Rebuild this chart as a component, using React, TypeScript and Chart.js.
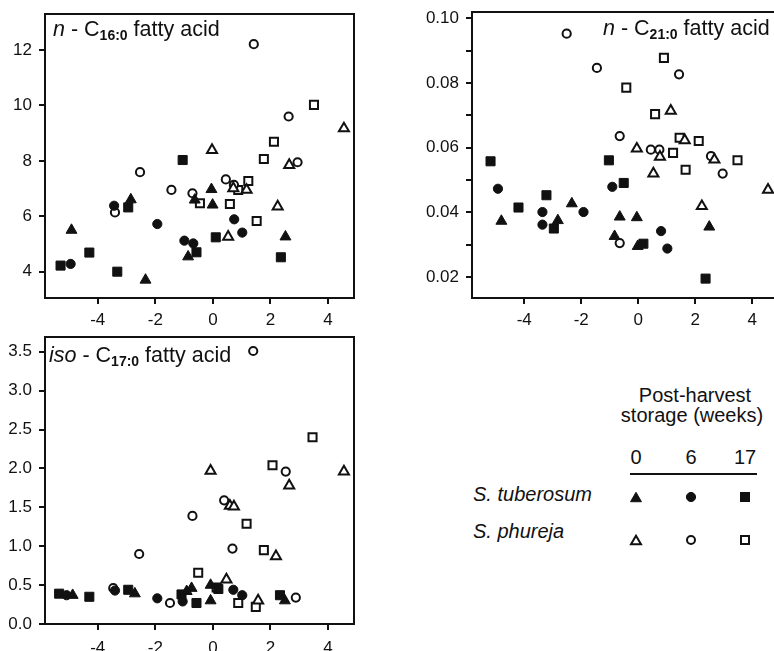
import { useEffect, useRef } from "react";
import { Chart, registerables } from "chart.js";

Chart.register(...registerables);

type Pt = [number, number];

// each point: [score on first axis, amount of fatty acid]
// groups: tuberosum / phureja after 0, 6 and 17 weeks of storage
const C16_TUB_0: Pt[] = [[-4.91, 5.5], [-2.85, 6.6], [-2.34, 3.7], [-0.86, 4.54], [-0.63, 6.59], [-0.05, 6.97], [-0.01, 6.41], [2.52, 5.26]];
const C16_TUB_6: Pt[] = [[-4.94, 4.28], [-3.43, 6.38], [-1.93, 5.72], [-0.99, 5.12], [-0.68, 5.02], [0.74, 5.89], [1.02, 5.41]];
const C16_TUB_17: Pt[] = [[-5.29, 4.22], [-4.29, 4.69], [-3.32, 4.0], [-2.94, 6.32], [-1.05, 8.03], [-0.57, 4.7], [0.1, 5.24], [2.36, 4.52]];
const C16_PHU_0: Pt[] = [[-0.03, 8.39], [0.71, 7.01], [1.17, 6.95], [2.65, 7.85], [2.25, 6.35], [4.55, 9.17], [0.53, 5.26]];
const C16_PHU_6: Pt[] = [[-2.53, 7.59], [-1.44, 6.95], [-0.71, 6.83], [-3.4, 6.14], [0.45, 7.33], [0.73, 7.13], [1.42, 12.21], [2.63, 9.6], [2.94, 7.95]];
const C16_PHU_17: Pt[] = [[-0.45, 6.47], [0.59, 6.44], [0.88, 6.95], [1.23, 7.27], [1.52, 5.83], [1.77, 8.07], [2.12, 8.69], [3.51, 10.02]];

const C21_TUB_0: Pt[] = [[-4.8, 0.0373], [-2.82, 0.0375], [-2.33, 0.0427], [-0.65, 0.0386], [-0.05, 0.0384], [-0.83, 0.0326], [-0.02, 0.0295], [2.49, 0.0355]];
const C21_TUB_6: Pt[] = [[-4.92, 0.0473], [-3.36, 0.0401], [-3.36, 0.0362], [-1.92, 0.0401], [-0.91, 0.0479], [0.8, 0.0342], [1.02, 0.0288]];
const C21_TUB_17: Pt[] = [[-5.18, 0.0558], [-4.2, 0.0415], [-3.22, 0.0453], [-2.96, 0.035], [-1.03, 0.0561], [-0.51, 0.0491], [0.18, 0.0303], [2.36, 0.0195]];
const C21_PHU_0: Pt[] = [[1.14, 0.0714], [-0.05, 0.0597], [0.76, 0.0572], [1.63, 0.0623], [2.67, 0.0563], [0.53, 0.052], [2.23, 0.0419], [4.55, 0.047]];
const C21_PHU_6: Pt[] = [[-2.51, 0.0953], [-1.45, 0.0847], [1.43, 0.0827], [-0.65, 0.0636], [0.44, 0.0594], [0.74, 0.0594], [2.55, 0.0574], [2.96, 0.052], [-0.65, 0.0305]];
const C21_PHU_17: Pt[] = [[0.9, 0.0878], [-0.42, 0.0786], [0.59, 0.0704], [1.45, 0.0631], [2.12, 0.0621], [1.22, 0.0584], [1.66, 0.0532], [3.48, 0.0561]];

const ISO_TUB_0: Pt[] = [[-4.87, 0.37], [-2.71, 0.39], [-0.91, 0.42], [-0.74, 0.46], [-0.08, 0.5], [-0.08, 0.3], [2.5, 0.3]];
const ISO_TUB_6: Pt[] = [[-5.08, 0.37], [-3.4, 0.43], [-1.93, 0.33], [-1.05, 0.29], [0.71, 0.44], [1.02, 0.37]];
const ISO_TUB_17: Pt[] = [[-5.34, 0.39], [-4.29, 0.35], [-2.94, 0.44], [-1.09, 0.38], [-0.57, 0.27], [0.19, 0.45], [2.33, 0.37]];
const ISO_PHU_0: Pt[] = [[-0.08, 1.97], [4.55, 1.96], [2.65, 1.78], [0.59, 1.52], [0.73, 1.51], [2.19, 0.87], [0.47, 0.57], [1.57, 0.3]];
const ISO_PHU_6: Pt[] = [[1.4, 3.51], [2.53, 1.96], [0.39, 1.59], [-0.71, 1.39], [-2.56, 0.9], [0.68, 0.97], [-1.49, 0.27], [2.88, 0.34], [-3.46, 0.46]];
const ISO_PHU_17: Pt[] = [[3.46, 2.4], [2.07, 2.04], [1.17, 1.29], [1.77, 0.95], [-0.51, 0.66], [0.13, 0.47], [0.88, 0.27], [1.49, 0.22]];

const X_TICKS = [-4, -2, 0, 2, 4];
const C16_TICKS = [4, 6, 8, 10, 12];
const C21_TICKS = [0.02, 0.03, 0.04, 0.05, 0.06, 0.07, 0.08, 0.09, 0.1];
const ISO_TICKS = [0, 0.5, 1, 1.5, 2, 2.5, 3, 3.5];

const WEEKS = ["0", "6", "17"];

const FONT = "'Liberation Sans', Arial, sans-serif";
const INK = "#111";

type Shape = "triangle" | "circle" | "rect";
const GROUPS: { label: string; shape: Shape; filled: boolean }[] = [
  { label: "S. tuberosum 0", shape: "triangle", filled: true },
  { label: "S. tuberosum 6", shape: "circle", filled: true },
  { label: "S. tuberosum 17", shape: "rect", filled: true },
  { label: "S. phureja 0", shape: "triangle", filled: false },
  { label: "S. phureja 6", shape: "circle", filled: false },
  { label: "S. phureja 17", shape: "rect", filled: false },
];

const RADIUS: Record<Shape, [number, number]> = {
  // [filled, open]
  triangle: [6.3, 5.8],
  circle: [4.6, 4.1],
  rect: [6.4, 5.7],
};

type Seg = { text: string; italic?: boolean; sub?: boolean };

const framePlugin = {
  id: "frame",
  afterDraw(chart: any, _args: any, opts: any) {
    const { ctx, chartArea: a } = chart;
    ctx.save();
    ctx.strokeStyle = INK;
    ctx.lineWidth = 2;
    ctx.strokeRect(a.left, a.top, a.right - a.left, a.bottom - a.top);
    let x = a.left + opts.dx;
    const y = a.top + opts.dy;
    ctx.fillStyle = INK;
    ctx.textBaseline = "alphabetic";
    ctx.textAlign = "left";
    for (const s of opts.title as Seg[]) {
      ctx.font = s.sub ? `bold 14px ${FONT}` : `${s.italic ? "italic " : ""}21.5px ${FONT}`;
      ctx.fillText(s.text, x, s.sub ? y + 4 : y);
      x += ctx.measureText(s.text).width;
    }
    ctx.restore();
  },
};

function axis(
  min: number,
  max: number,
  ticks: number[],
  fmt: (v: number) => string,
  size: number,
  vertical: boolean,
  labelPad: number
) {
  return {
    type: "linear" as const,
    min,
    max,
    afterBuildTicks: (s: any) => {
      s.ticks = ticks.map((value) => ({ value }));
    },
    afterFit: (s: any) => {
      if (vertical) s.width = size;
      else s.height = size;
      s.paddingTop = 0;
      s.paddingBottom = 0;
      s.paddingLeft = 0;
      s.paddingRight = 0;
    },
    grid: { drawOnChartArea: false, drawTicks: true, tickLength: 6, lineWidth: 2, color: INK },
    border: { display: false },
    ticks: {
      autoSkip: false,
      maxRotation: 0,
      padding: labelPad,
      color: INK,
      font: { family: FONT, size: 17 },
      callback: (v: any) => fmt(Number(v)),
    },
  };
}

function datasets(series: Pt[][]) {
  return series.map((pts, i) => {
    const g = GROUPS[i];
    return {
      label: g.label,
      data: pts.map(([x, y]) => ({ x, y })),
      pointStyle: g.shape,
      pointRadius: RADIUS[g.shape][g.filled ? 0 : 1],
      backgroundColor: g.filled ? INK : "#fff",
      borderColor: INK,
      borderWidth: g.filled ? 1 : 2,
    };
  });
}

type PanelDef = {
  series: Pt[][];
  yMin: number;
  yMax: number;
  yTicks: number[];
  yFmt: (v: number) => string;
  yWidth: number;
  xHeight: number;
  xPad: number;
  padding: { top: number; right: number };
  title: Seg[];
  dx: number;
  dy: number;
};

function makeConfig(p: PanelDef) {
  return {
    type: "scatter" as const,
    data: { datasets: datasets(p.series) },
    options: {
      responsive: false,
      animation: false as const,
      layout: { padding: { left: 0, bottom: 0, ...p.padding }, autoPadding: false },
      plugins: {
        legend: { display: false },
        tooltip: { enabled: false },
        frame: { title: p.title, dx: p.dx, dy: p.dy },
      },
      scales: {
        x: axis(-5.83, 4.9, X_TICKS, (v) => String(v), p.xHeight, false, p.xPad),
        y: axis(p.yMin, p.yMax, p.yTicks, p.yFmt, p.yWidth, true, 7),
      },
    },
    plugins: [framePlugin],
  };
}

const PANEL_C16: PanelDef = {
  series: [C16_TUB_0, C16_TUB_6, C16_TUB_17, C16_PHU_0, C16_PHU_6, C16_PHU_17],
  yMin: 3.05,
  yMax: 13.3,
  yTicks: C16_TICKS,
  yFmt: (v) => String(v),
  yWidth: 45,
  xHeight: 32,
  xPad: 6,
  padding: { top: 14, right: 11 },
  title: [{ text: "n", italic: true }, { text: " - C" }, { text: "16:0", sub: true }, { text: " fatty acid" }],
  dx: 8,
  dy: 22,
};

const PANEL_C21: PanelDef = {
  series: [C21_TUB_0, C21_TUB_6, C21_TUB_17, C21_PHU_0, C21_PHU_6, C21_PHU_17],
  yMin: 0.0135,
  yMax: 0.102,
  yTicks: C21_TICKS,
  yFmt: (v) => (Math.round(v * 100) % 2 === 0 ? v.toFixed(2) : ""),
  yWidth: 72,
  xHeight: 32,
  xPad: 6,
  padding: { top: 12, right: 14 },
  title: [{ text: "n", italic: true }, { text: " - C" }, { text: "21:0", sub: true }, { text: " fatty acid" }],
  dx: 131,
  dy: 23,
};

const PANEL_ISO: PanelDef = {
  series: [ISO_TUB_0, ISO_TUB_6, ISO_TUB_17, ISO_PHU_0, ISO_PHU_6, ISO_PHU_17],
  yMin: 0,
  yMax: 3.69,
  yTicks: ISO_TICKS,
  yFmt: (v) => v.toFixed(1),
  yWidth: 45,
  xHeight: 27,
  xPad: 8,
  padding: { top: 7, right: 11 },
  title: [{ text: "iso", italic: true }, { text: " - C" }, { text: "17:0", sub: true }, { text: " fatty acid" }],
  dx: 4,
  dy: 25,
};

function Panel({ def, left, top, width, height }: { def: PanelDef; left: number; top: number; width: number; height: number }) {
  const canvasRef = useRef<HTMLCanvasElement>(null);

  useEffect(() => {
    const canvas = canvasRef.current;
    if (!canvas) return;
    const chart = new Chart(canvas, makeConfig(def) as any);
    return () => chart.destroy();
  }, [def]);

  return (
    <canvas
      ref={canvasRef}
      width={width}
      height={height}
      style={{ position: "absolute", left, top, width, height }}
    />
  );
}

function Marker({ shape, filled, x, y }: { shape: Shape; filled: boolean; x: number; y: number }) {
  const fill = filled ? INK : "#fff";
  const sw = filled ? 1 : 2;
  if (shape === "circle") return <circle cx={x} cy={y} r={filled ? 4.6 : 4} fill={fill} stroke={INK} strokeWidth={sw} />;
  if (shape === "rect") {
    const h = filled ? 4.5 : 4;
    return <rect x={x - h} y={y - h} width={2 * h} height={2 * h} fill={fill} stroke={INK} strokeWidth={sw} />;
  }
  const r = filled ? 6.3 : 5.8;
  const pts = [0, 120, 240]
    .map((d) => {
      const t = (d * Math.PI) / 180;
      return `${x + Math.sin(t) * r},${y - Math.cos(t) * r + r * 0.25}`;
    })
    .join(" ");
  return <polygon points={pts} fill={fill} stroke={INK} strokeWidth={sw} strokeLinejoin="miter" />;
}

function Legend() {
  const cols = [176, 231, 285];
  const rows = [
    { name: "S. tuberosum", base: 131, y: 127, filled: true },
    { name: "S. phureja", base: 168, y: 170, filled: false },
  ];
  const shapes: Shape[] = ["triangle", "circle", "rect"];
  return (
    <svg
      width={314}
      height={200}
      style={{ position: "absolute", left: 460, top: 370 }}
      fontFamily={FONT}
      fontSize={20}
      fill={INK}
    >
      <text x={235} y={32} textAnchor="middle">Post-harvest</text>
      <text x={232} y={52} textAnchor="middle">storage (weeks)</text>
      {WEEKS.map((w, i) => (
        <text key={w} x={cols[i]} y={94} textAnchor="middle">{w}</text>
      ))}
      <line x1={170} x2={297} y1={104} y2={104} stroke={INK} strokeWidth={2} />
      {rows.map((r) => (
        <g key={r.name}>
          <text x={13} y={r.base} fontStyle="italic">{r.name}</text>
          {shapes.map((s, i) => (
            <Marker key={s} shape={s} filled={r.filled} x={cols[i]} y={r.y} />
          ))}
        </g>
      ))}
    </svg>
  );
}

export default function App() {
  return (
    <div
      style={{
        position: "absolute",
        left: 0,
        top: 0,
        width: 774,
        height: 651,
        overflow: "hidden",
        background: "#fff",
      }}
    >
      <Panel def={PANEL_C16} left={0} top={0} width={365} height={330} />
      <Panel def={PANEL_C21} left={400} top={0} width={392} height={330} />
      <Panel def={PANEL_ISO} left={0} top={330} width={365} height={321} />
      <Legend />
    </div>
  );
}
